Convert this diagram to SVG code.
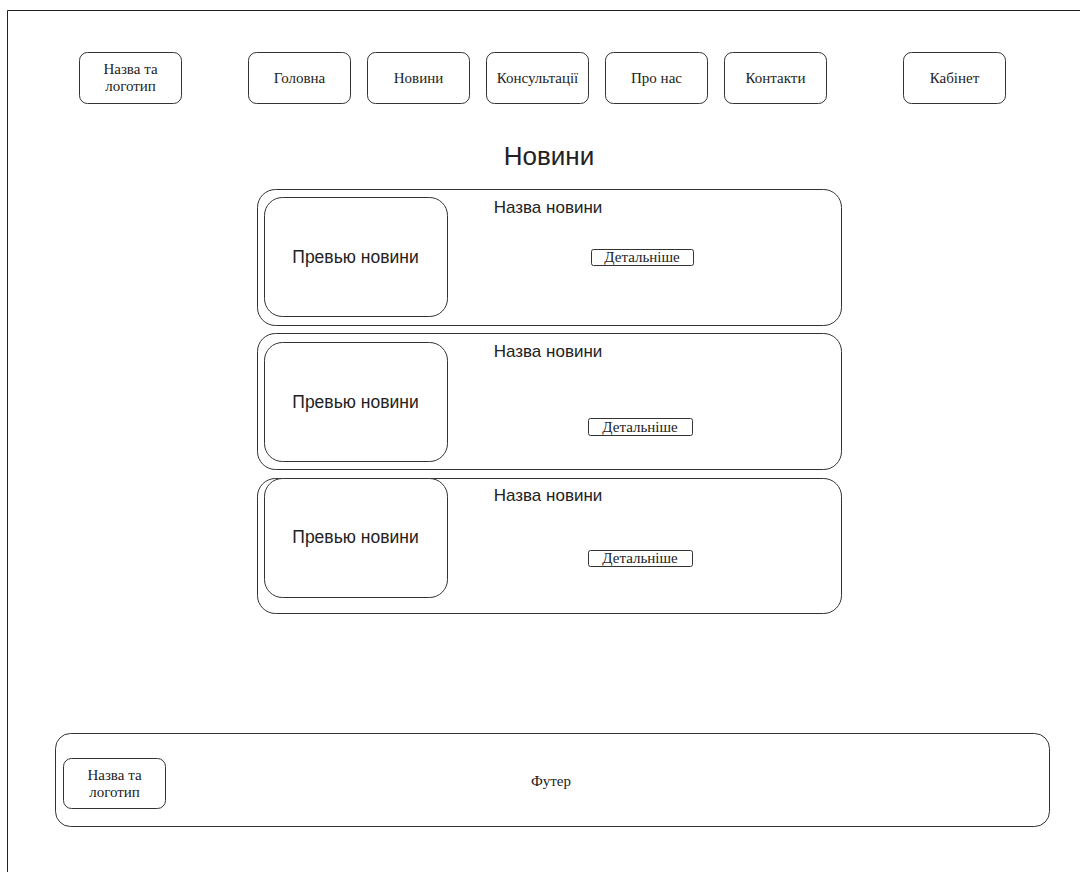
<svg xmlns="http://www.w3.org/2000/svg" width="1080" height="872" viewBox="0 0 1080 872">
  <style>
    .box { fill: #ffffff; stroke: #333333; stroke-width: 1; }
    .serif { font-family: "Liberation Serif", "Times New Roman", serif; font-size: 15px; fill: #222222; text-anchor: middle; }
    .sans { font-family: "Liberation Sans", Arial, sans-serif; fill: #222222; text-anchor: middle; }
  </style>
  <rect width="1080" height="872" fill="#ffffff"/>
  <!-- page frame -->
  <path d="M7.5 872 V10.5 H1080" fill="none" stroke="#222222" stroke-width="1"/>

  <!-- header navigation -->
  <g id="logo">
    <rect class="box" x="79.5" y="52.5" width="102" height="51" rx="8"/>
    <text class="serif" x="130.5" y="74">Назва та</text>
    <text class="serif" x="130.5" y="91">логотип</text>
  </g>
  <g id="nav-home">
    <rect class="box" x="248.5" y="52.5" width="102" height="51" rx="8"/>
    <text class="serif" x="299.5" y="83">Головна</text>
  </g>
  <g id="nav-news">
    <rect class="box" x="367.5" y="52.5" width="102" height="51" rx="8"/>
    <text class="serif" x="418.5" y="83">Новини</text>
  </g>
  <g id="nav-consult">
    <rect class="box" x="486.5" y="52.5" width="102" height="51" rx="8"/>
    <text class="serif" x="537.5" y="83">Консультації</text>
  </g>
  <g id="nav-about">
    <rect class="box" x="605.5" y="52.5" width="102" height="51" rx="8"/>
    <text class="serif" x="656.5" y="83">Про нас</text>
  </g>
  <g id="nav-contacts">
    <rect class="box" x="724.5" y="52.5" width="102" height="51" rx="8"/>
    <text class="serif" x="775.5" y="83">Контакти</text>
  </g>
  <g id="nav-cabinet">
    <rect class="box" x="903.5" y="52.5" width="102" height="51" rx="8"/>
    <text class="serif" x="954.5" y="83">Кабінет</text>
  </g>

  <!-- page title -->
  <g id="title">
    <text class="sans" x="549" y="165" font-size="26">Новини</text>
  </g>

  <!-- news cards -->
  <g id="card-1">
    <rect class="box" x="257.5" y="189.5" width="584" height="136" rx="18"/>
    <rect class="box" x="264.5" y="197.5" width="183" height="119" rx="18"/>
    <text class="sans" x="355.5" y="263" font-size="17.5">Превью новини</text>
    <text class="sans" x="548" y="213" font-size="17">Назва новини</text>
    <rect class="box" x="591.5" y="249.5" width="102" height="16" rx="2"/>
    <text class="serif" x="642" y="262">Детальніше</text>
  </g>
  <g id="card-2">
    <rect class="box" x="257.5" y="333.5" width="584" height="136" rx="18"/>
    <rect class="box" x="264.5" y="342.5" width="183" height="119" rx="18"/>
    <text class="sans" x="355.5" y="408" font-size="17.5">Превью новини</text>
    <text class="sans" x="548" y="357" font-size="17">Назва новини</text>
    <rect class="box" x="588.5" y="418.5" width="104" height="17" rx="2"/>
    <text class="serif" x="640" y="432">Детальніше</text>
  </g>
  <g id="card-3">
    <rect class="box" x="257.5" y="478.5" width="584" height="135" rx="18"/>
    <rect class="box" x="264.5" y="478.5" width="183" height="119" rx="18"/>
    <text class="sans" x="355.5" y="543" font-size="17.5">Превью новини</text>
    <text class="sans" x="548" y="501" font-size="17">Назва новини</text>
    <rect class="box" x="588.5" y="550.5" width="104" height="16" rx="2"/>
    <text class="serif" x="640" y="563">Детальніше</text>
  </g>

  <!-- footer -->
  <g id="footer">
    <rect class="box" x="55.5" y="733.5" width="994" height="93" rx="15"/>
    <text class="serif" x="551" y="786">Футер</text>
  </g>
  <g id="footer-logo">
    <rect class="box" x="63.5" y="758.5" width="102" height="50" rx="8"/>
    <text class="serif" x="114.5" y="780">Назва та</text>
    <text class="serif" x="114.5" y="797">логотип</text>
  </g>

  <g id="connectors"/>
</svg>
